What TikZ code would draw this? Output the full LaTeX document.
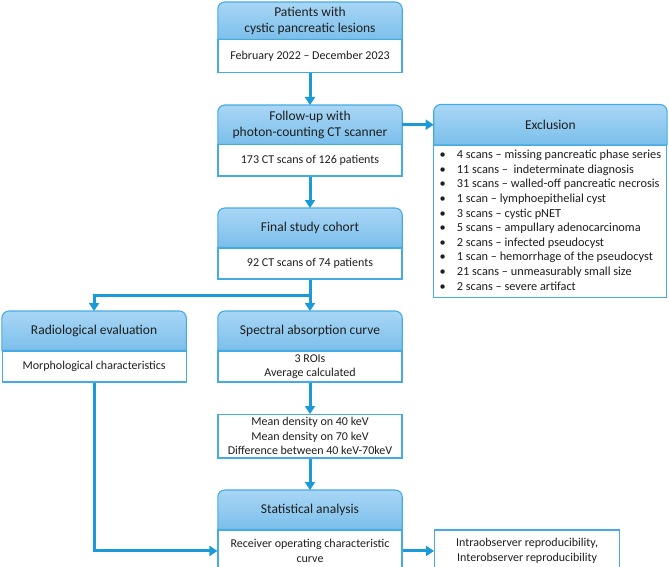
\documentclass[tikz,border=0pt]{standalone}
\usepackage{fontspec}
\setmainfont{Carlito}
\usetikzlibrary{positioning,arrows.meta,backgrounds}

\definecolor{headtop}{HTML}{A9D6F5}
\definecolor{headbot}{HTML}{7BBFEB}
\definecolor{frame}{HTML}{45ACE3}
\definecolor{flow}{HTML}{1A9BD7}
\definecolor{ink}{HTML}{1E1E1E}

\begin{document}
\begin{tikzpicture}[
    x=1pt, y=1pt,
    node distance=31.5pt,
    head/.style={rectangle, minimum width=184pt, minimum height=39pt, align=center, inner sep=2pt, text=ink, font=\fontsize{13.5}{16}\selectfont},
    body/.style={rectangle, draw=frame, line width=1.1pt, fill=white, minimum width=184pt, align=center, inner sep=3pt, text=ink, font=\fontsize{12}{14.5}\selectfont},
    headfill/.style={top color=headtop, bottom color=headbot, draw=frame, line width=1.1pt},
    arrow/.style={-{Triangle[length=8pt, width=10pt]}, line width=3pt, draw=flow}
]
\useasboundingbox (0,0) rectangle (669,-567);

% Column 1: Patient selection
\node[head, anchor=north, minimum height=37pt] (pat) at (310,-2) {Patients with\\cystic pancreatic lesions};
\node[body, below=0pt of pat, minimum height=33pt] (patB) {February 2022 – December 2023};
\node[head, below=of patB] (fol) {Follow-up with\\photon-counting CT scanner};
\node[body, below=0pt of fol, minimum height=31pt] (folB) {173 CT scans of 126 patients};
\node[head, below=of folB] (fin) {Final study cohort};
\node[body, below=0pt of fin, minimum height=31pt] (finB) {92 CT scans of 74 patients};

% Exclusion list
\node[head, right=of fol, minimum width=233pt, minimum height=40pt] (exc) {Exclusion};
\node[body, below=0pt of exc, minimum width=233pt, minimum height=152pt, font=\fontsize{12.3}{14.6}\selectfont] (excB) {%
  \begin{tabular}{@{}l@{\hspace{11pt}}l@{}}
  \textbullet & 4 scans – missing pancreatic phase series\\
  \textbullet & 11 scans –\ \ indeterminate diagnosis\\
  \textbullet & 31 scans – walled-off pancreatic necrosis\\
  \textbullet & 1 scan – lymphoepithelial cyst\\
  \textbullet & 3 scans – cystic pNET\\
  \textbullet & 5 scans – ampullary adenocarcinoma\\
  \textbullet & 2 scans – infected pseudocyst\\
  \textbullet & 1 scan – hemorrhage of the pseudocyst\\
  \textbullet & 21 scans – unmeasurably small size\\
  \textbullet & 2 scans – severe artifact
  \end{tabular}};

% Row 2: Evaluation branches
\node[head, below=of finB] (spe) {Spectral absorption curve};
\node[body, below=0pt of spe, minimum height=31pt] (speB) {3 ROIs\\Average calculated};
\node[head, left=of spe] (rad) {Radiological evaluation};
\node[body, below=0pt of rad, minimum height=31pt] (radB) {Morphological characteristics};
\node[body, below=of speB, minimum height=43pt] (mean) {Mean density on 40 keV\\Mean density on 70 keV\\Difference between 40 keV-70keV};

% Row 3: Statistics
\node[head, below=of mean] (sta) {Statistical analysis};
\node[body, below=0pt of sta, minimum height=42pt] (staB) {Receiver operating characteristic\\curve};
\node[body, right=of staB, minimum width=185pt, minimum height=42pt] (intra) {Intraobserver reproducibility,\\Interobserver reproducibility};

% Header boxes with rounded top corners
\begin{scope}[on background layer]
\foreach \h in {pat,fol,fin,exc,rad,spe,sta} {
  \path[headfill] (\h.south west) -- ([yshift=-7pt]\h.north west)
    arc[start angle=180, end angle=90, radius=7pt] -- ([xshift=-7pt]\h.north east)
    arc[start angle=90, end angle=0, radius=7pt] -- (\h.south east) -- cycle;
}
\end{scope}

% Arrows - main flow
\draw[arrow] (patB) -- (fol);
\draw[arrow] (folB) -- (fin);
\draw[arrow] (fol) -- (exc);
\draw[arrow] (finB) -- (spe);
\draw[arrow] (finB.south) -- ++(0,-16) -| (rad);
\draw[arrow] (speB) -- (mean);
\draw[arrow] (mean) -- (sta);
\draw[arrow] (radB.south) |- (staB.west);
\draw[arrow] (staB) -- (intra);

\end{tikzpicture}
\end{document}
